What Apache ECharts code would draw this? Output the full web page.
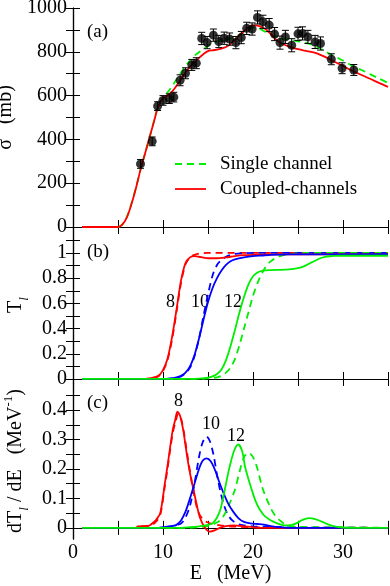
<!DOCTYPE html>
<html>
<head>
<meta charset="utf-8">
<script src="https://cdn.jsdelivr.net/npm/echarts@6/dist/echarts.min.js"></script>
<style>
  html, body { margin: 0; padding: 0; background: #fff; }
  #chart { width: 390px; height: 586px; }
</style>
</head>
<body>
<div id="chart"></div>
<script>
// ---- panel (a): cross section ----
const expE = [7.5, 8.8, 9.4, 10.0, 10.7, 11.2, 11.9, 12.5, 13.2, 13.7, 14.3, 14.9, 15.6, 16.2, 16.8, 17.4, 18.1, 18.7, 19.3, 19.9, 20.5, 21.1, 21.8, 22.4, 23.0, 23.6, 24.3, 25.0, 25.5, 26.1, 26.9, 27.5, 28.7, 29.9, 31.2]
const expSigma = [288, 391, 552, 578, 586, 593, 670, 702, 740, 748, 861, 842, 876, 847, 862, 858, 842, 865, 907, 904, 957, 937, 922, 881, 842, 868, 830, 882, 884, 868, 845, 838, 766, 725, 717]
const expErr = [20, 20, 20, 22, 22, 22, 25, 25, 25, 25, 28, 28, 28, 28, 28, 28, 28, 28, 28, 28, 30, 30, 30, 30, 30, 30, 30, 30, 30, 30, 30, 30, 25, 25, 25]

const cE = [1, 5, 5.5, 6, 6.5, 7, 7.5, 8, 8.5, 9, 9.5, 10, 10.5, 11, 11.5, 12, 12.5, 13, 13.5, 14, 14.5, 15, 15.5, 16, 16.5, 17, 17.5, 18, 18.5, 19, 19.5, 20, 20.5, 21, 21.5, 22, 22.5, 23, 23.5, 24, 25, 26, 27, 28, 29, 30, 31, 32, 33, 34, 35]
const sigmaSingle = [0, 0, 12, 48, 108, 180, 262, 335, 410, 484, 557, 592, 614, 642, 674, 705, 735, 760, 782, 798, 812, 828, 840, 847, 851, 855, 860, 868, 878, 890, 902, 910, 910, 900, 888, 878, 870, 864, 859, 855, 848, 840, 825, 802, 781, 760, 737, 718, 698, 678, 658]
const sigmaCoupled = [0, 0, 12, 45, 105, 178, 262, 335, 408, 482, 555, 588, 602, 618, 645, 675, 705, 732, 752, 772, 790, 803, 807, 810, 815, 822, 835, 855, 875, 895, 912, 921, 920, 912, 900, 880, 858, 842, 832, 824, 812, 803, 794, 777, 756, 735, 714, 695, 677, 658, 640]

// ---- panel (b): transmission coefficients [E, T] ----
const T8single = [[1, 0], [8, 0], [8.5, 0.003], [9, 0.01], [9.5, 0.022], [10, 0.065], [10.5, 0.15], [11, 0.31], [11.5, 0.53], [12, 0.76], [12.5, 0.91], [13, 0.965], [13.5, 0.985], [14, 0.995], [15, 1], [35, 1]]
const T8coupled = [[1, 0], [8, 0], [8.5, 0.004], [9, 0.012], [9.5, 0.025], [10, 0.07], [10.5, 0.16], [11, 0.33], [11.5, 0.55], [12, 0.78], [12.5, 0.92], [13, 0.965], [13.5, 0.975], [14, 0.97], [14.5, 0.963], [15, 0.958], [16, 0.958], [17, 0.965], [18, 0.975], [19, 0.982], [20, 0.985], [22, 0.988], [35, 0.99]]
const T10single = [[1, 0], [10, 0], [11, 0.004], [11.5, 0.01], [12, 0.02], [12.5, 0.045], [13, 0.09], [13.5, 0.18], [14, 0.32], [14.5, 0.5], [15, 0.67], [15.5, 0.82], [16, 0.905], [16.5, 0.945], [17, 0.97], [17.5, 0.985], [18, 0.992], [19, 0.997], [20, 1], [35, 1]]
const T10coupled = [[1, 0], [10, 0], [11, 0.005], [11.5, 0.012], [12, 0.025], [12.5, 0.05], [13, 0.1], [13.5, 0.19], [14, 0.32], [14.5, 0.47], [15, 0.61], [15.5, 0.72], [16, 0.8], [16.5, 0.86], [17, 0.905], [17.5, 0.935], [18, 0.95], [19, 0.965], [20, 0.975], [21, 0.98], [22, 0.985], [24, 0.988], [35, 0.99]]
const T12single = [[1, 0], [14, 0], [15, 0.004], [16, 0.012], [16.5, 0.025], [17, 0.05], [17.5, 0.09], [18, 0.16], [18.5, 0.27], [19, 0.4], [19.5, 0.53], [20, 0.66], [20.5, 0.76], [21, 0.84], [21.5, 0.9], [22, 0.935], [22.5, 0.96], [23, 0.975], [24, 0.99], [25, 0.997], [26, 1], [35, 1]]
const T12coupled = [[1, 0], [13, 0], [14, 0.003], [15, 0.01], [15.5, 0.02], [16, 0.04], [16.5, 0.075], [17, 0.15], [17.5, 0.26], [18, 0.39], [18.5, 0.53], [19, 0.65], [19.5, 0.75], [20, 0.815], [20.5, 0.845], [21, 0.858], [22, 0.864], [23, 0.866], [24, 0.87], [25, 0.88], [25.5, 0.89], [26, 0.905], [26.5, 0.925], [27, 0.942], [27.5, 0.958], [28, 0.968], [28.5, 0.974], [29, 0.977], [30, 0.978], [35, 0.978]]

// ---- panel (c): dT/dE [E, value] ----
const D8single = [[1, 0], [7, 0], [7.2, 0.004], [8, 0.005], [8.6, 0.007], [9.2, 0.02], [9.7, 0.045], [10.2, 0.14], [10.5, 0.2], [10.8, 0.265], [11.1, 0.325], [11.4, 0.36], [11.7, 0.388], [12, 0.372], [12.35, 0.32], [12.6, 0.27], [12.9, 0.21], [13.2, 0.155], [13.5, 0.105], [13.9, 0.055], [14.4, 0.03], [15, 0.018], [16, 0.01], [17, 0.006], [18, 0.004], [20, 0.002], [23, 0.001], [35, 0]]
const D8coupled = [[1, 0], [7, 0], [7.2, 0.005], [8, 0.006], [8.5, 0.008], [9, 0.02], [9.3, 0.03], [9.7, 0.05], [10.2, 0.15], [10.5, 0.21], [10.8, 0.275], [11.1, 0.335], [11.35, 0.366], [11.6, 0.395], [11.9, 0.38], [12.25, 0.332], [12.5, 0.28], [12.8, 0.22], [13.1, 0.17], [13.4, 0.128], [13.7, 0.085], [14.1, 0.035], [14.6, 0.003], [15.2, -0.013], [15.8, -0.008], [16.3, 0], [17, 0.006], [17.8, 0.008], [18.8, 0.006], [20, 0.002], [21, 0], [35, 0]]
const D10single = [[1, 0], [9.5, 0], [10, 0.002], [11, 0.006], [12, 0.015], [12.5, 0.035], [13, 0.075], [13.5, 0.15], [14, 0.24], [14.4, 0.29], [14.85, 0.31], [15.2, 0.295], [15.6, 0.25], [16, 0.18], [16.4, 0.12], [16.8, 0.075], [17.2, 0.045], [17.7, 0.025], [18.3, 0.013], [19, 0.008], [20, 0.005], [22, 0.003], [25, 0.001], [35, 0]]
const D10coupled = [[1, 0], [9.5, 0], [10, 0.002], [11, 0.006], [11.5, 0.01], [12, 0.025], [12.5, 0.055], [13, 0.1], [13.5, 0.15], [14, 0.2], [14.4, 0.228], [14.85, 0.236], [15.3, 0.226], [15.8, 0.195], [16.2, 0.16], [16.7, 0.12], [17.2, 0.085], [17.8, 0.055], [18.4, 0.032], [19, 0.02], [19.7, 0.015], [20.5, 0.013], [21.2, 0.011], [22, 0.006], [23, 0.002], [24, 0], [35, 0]]
const D12single = [[1, 0], [13, 0], [14, 0.002], [15, 0.006], [16, 0.018], [16.5, 0.03], [17, 0.055], [17.5, 0.09], [18, 0.13], [18.5, 0.19], [19, 0.24], [19.5, 0.255], [20, 0.24], [20.5, 0.2], [21, 0.14], [21.5, 0.1], [22, 0.065], [22.5, 0.04], [23, 0.025], [23.5, 0.013], [24.2, 0.006], [25, 0.003], [27, 0.002], [35, 0]]
const D12coupled = [[1, 0], [12, 0], [13, 0.002], [14, 0.005], [15, 0.01], [15.5, 0.015], [16, 0.035], [16.4, 0.065], [16.7, 0.105], [17, 0.15], [17.4, 0.207], [17.9, 0.262], [18.35, 0.283], [18.8, 0.26], [19.1, 0.21], [19.5, 0.165], [19.85, 0.13], [20.3, 0.09], [20.8, 0.06], [21.4, 0.037], [22.3, 0.02], [23.2, 0.01], [24, 0.008], [24.8, 0.015], [25.5, 0.027], [26.2, 0.033], [27, 0.029], [27.7, 0.02], [28.4, 0.011], [29.2, 0.004], [30, 0.001], [31, 0], [35, 0]]

// ---- tick values ----
const xLabels = [0, 10, 20, 30]
const aTicks = [0, 100, 200, 300, 400, 500, 600, 700, 800, 900, 1000]
const aLabels = [0, 200, 400, 600, 800, 1000]
const bTicks = [0, 0.1, 0.2, 0.3, 0.4, 0.5, 0.6, 0.7, 0.8, 0.9, 1, 1.1]
const bLabels = [0, 0.2, 0.4, 0.6, 0.8, 1]
const cTicks = [0, 0.05, 0.1, 0.15, 0.2, 0.25, 0.3, 0.35, 0.4, 0.45]
const cLabels = [0, 0.1, 0.2, 0.3, 0.4]

const FONT = 'Liberation Serif'
const RED = '#ff0000', GREEN = '#00ee00', BLUE = '#0000ff'
const DASH = [7, 5]

const myChart = echarts.init(document.getElementById('chart'))

const frameLine = { lineStyle: { color: '#000', width: 1.2 } }
const tick = { inside: true, length: 7, lineStyle: { color: '#000', width: 1 } }

function xAx(grid, position, showLabel) {
  return {
    type: 'value', gridIndex: grid, position, min: 0, max: 35, interval: 5,
    axisLine: frameLine, axisTick: tick, splitLine: { show: false },
    axisLabel: {
      show: showLabel, showMinLabel: true, showMaxLabel: true, margin: 4,
      fontFamily: FONT, fontSize: 20, color: '#000',
      formatter: v => (xLabels.includes(v) ? String(v) : '')
    },
    name: showLabel ? 'E   (MeV)' : '', nameLocation: 'middle', nameGap: 25,
    nameTextStyle: { fontFamily: FONT, fontSize: 20, color: '#000' }
  }
}

function yAx(grid, position, min, max, ticks, labels, showLabel, name, nameGap, rich) {
  return {
    type: 'value', gridIndex: grid, position, min, max,
    axisLine: frameLine, splitLine: { show: false },
    axisTick: Object.assign({ customValues: ticks }, tick),
    axisLabel: {
      show: showLabel, customValues: labels, margin: 6,
      fontFamily: FONT, fontSize: 20, color: '#000',
      formatter: v => String(+(+v).toFixed(2))
    },
    name: showLabel ? name : '', nameLocation: 'middle', nameGap: nameGap || 50,
    nameTextStyle: { fontFamily: FONT, fontSize: 20, color: '#000', rich: rich || {} }
  }
}

const richSub = {
  n: { fontFamily: FONT, fontSize: 20, color: '#000' },
  s: { fontFamily: FONT, fontSize: 13, fontStyle: 'italic', color: '#000', verticalAlign: 'bottom', padding: [0, 0, -5, 0] },
  p: { fontFamily: FONT, fontSize: 13, color: '#000', verticalAlign: 'top', padding: [-4, 0, 0, 0] }
}

function curve(name, data, color, dashed, xi, yi) {
  return {
    name, type: 'line', data, xAxisIndex: xi, yAxisIndex: yi,
    smooth: 0.3, symbol: 'none', color, silent: true,
    lineStyle: { color, width: 1.8, type: dashed ? DASH : 'solid' },
    z: dashed ? 2 : 3
  }
}

function txt(s, left, top, size) {
  return { type: 'text', left, top, silent: true, style: { text: s, font: size + 'px "Liberation Serif"', fill: '#000' } }
}

const gridBase = { left: 73, width: 315, containLabel: false, outerBoundsMode: 'none' }

myChart.setOption({
  animation: false,
  grid: [
    Object.assign({ top: 8, height: 219 }, gridBase),
    Object.assign({ top: 227, height: 156 }, gridBase),
    Object.assign({ top: 383, height: 156 }, gridBase)
  ],
  xAxis: [
    xAx(0, 'bottom', false), xAx(0, 'top', false),
    xAx(1, 'bottom', false), xAx(1, 'top', false),
    xAx(2, 'bottom', true), xAx(2, 'top', false)
  ],
  yAxis: [
    yAx(0, 'left', 0, 1000, aTicks, aLabels, true, 'σ   (mb)', 51),
    yAx(0, 'right', 0, 1000, aTicks, aLabels, false),
    yAx(1, 'left', -0.032, 1.206, bTicks, bLabels, true, '{n|T}{s|l}', 46, richSub),
    yAx(1, 'right', -0.032, 1.206, bTicks, bLabels, false),
    yAx(2, 'left', -0.038, 0.492, cTicks, cLabels, true, '{n|dT}{s|l}{n| / dE   (MeV}{p|-1}{n|)}', 44, richSub),
    yAx(2, 'right', -0.038, 0.492, cTicks, cLabels, false)
  ],
  graphic: [
    txt('(a)', 87, 23, 19), txt('(b)', 87, 243, 19), txt('(c)', 87, 394, 19),
    txt('8', 166, 293, 18), txt('10', 191, 293, 18), txt('12', 224, 293, 18),
    txt('8', 174, 392, 18), txt('10', 202, 415, 18), txt('12', 227, 427, 18),
    // legend
    { type: 'line', silent: true, shape: { x1: 175, y1: 164, x2: 206, y2: 164 }, style: { stroke: GREEN, lineWidth: 1.8, lineDash: DASH } },
    txt('Single channel', 220, 155, 19),
    { type: 'line', silent: true, shape: { x1: 175, y1: 189, x2: 206, y2: 189 }, style: { stroke: RED, lineWidth: 1.8 } },
    txt('Coupled-channels', 220, 180, 19)
  ],
  series: [
    curve('Single channel', cE.map((e, i) => [e, sigmaSingle[i]]), GREEN, true, 0, 0),
    curve('Coupled-channels', cE.map((e, i) => [e, sigmaCoupled[i]]), RED, false, 0, 0),
    {
      type: 'custom', xAxisIndex: 0, yAxisIndex: 0, silent: true, z: 4,
      data: expE.map((e, i) => [e, expSigma[i] - expErr[i], expSigma[i] + expErr[i]]),
      renderItem(params, api) {
        const lo = api.coord([api.value(0), api.value(1)])
        const hi = api.coord([api.value(0), api.value(2)])
        const w = 3.5
        const st = { stroke: '#000', lineWidth: 1 }
        return {
          type: 'group', children: [
            { type: 'line', shape: { x1: lo[0], y1: lo[1], x2: hi[0], y2: hi[1] }, style: st },
            { type: 'line', shape: { x1: lo[0] - w, y1: lo[1], x2: lo[0] + w, y2: lo[1] }, style: st },
            { type: 'line', shape: { x1: hi[0] - w, y1: hi[1], x2: hi[0] + w, y2: hi[1] }, style: st }
          ]
        }
      }
    },
    {
      type: 'scatter', xAxisIndex: 0, yAxisIndex: 0, silent: true, z: 5,
      data: expE.map((e, i) => [e, expSigma[i]]),
      symbol: 'circle', symbolSize: 9, itemStyle: { color: '#000' }
    },
    curve('T8 single', T8single, RED, true, 2, 2),
    curve('T8 coupled', T8coupled, RED, false, 2, 2),
    curve('T10 single', T10single, BLUE, true, 2, 2),
    curve('T10 coupled', T10coupled, BLUE, false, 2, 2),
    curve('T12 single', T12single, GREEN, true, 2, 2),
    curve('T12 coupled', T12coupled, GREEN, false, 2, 2),
    curve('D8 single', D8single, RED, true, 4, 4),
    curve('D8 coupled', D8coupled, RED, false, 4, 4),
    curve('D10 single', D10single, BLUE, true, 4, 4),
    curve('D10 coupled', D10coupled, BLUE, false, 4, 4),
    curve('D12 single', D12single, GREEN, true, 4, 4),
    curve('D12 coupled', D12coupled, GREEN, false, 4, 4)
  ]
})
</script>
</body>
</html>
